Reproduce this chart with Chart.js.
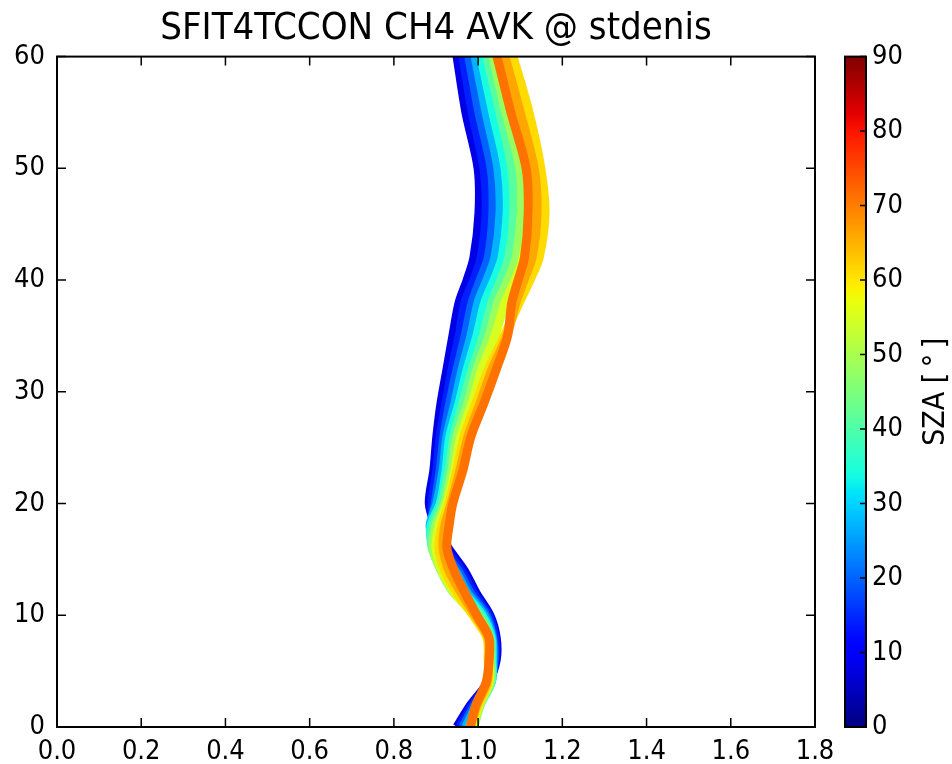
<!DOCTYPE html>
<html>
<head>
<meta charset="utf-8">
<script src="https://cdn.jsdelivr.net/npm/chart.js@4.4.1/dist/chart.umd.min.js"></script>
<style>
  html, body { margin: 0; padding: 0; background: #fff; }
  #wrap { width: 952px; height: 764px; }
</style>
</head>
<body>
<div id="wrap"><canvas id="avk"></canvas></div>
<script>
// altitude grid [km] shared by every averaging kernel profile
var altitudes = [0, 2, 4, 6, 8, 10, 12, 14, 16, 18, 20, 23, 26, 29, 32, 35, 38, 40, 42, 46, 50, 55, 60];

// solar zenith angle of each profile [deg]
var szaValues = [8, 14, 20, 27, 34, 41, 48, 55, 61, 66, 71];

// column averaging kernel per SZA, one value per altitude level
var avkSza08 = [0.950, 0.983, 1.024, 1.043, 1.043, 1.028, 0.995, 0.967, 0.929, 0.900, 0.884, 0.895, 0.902, 0.912, 0.926, 0.940, 0.955, 0.974, 0.990, 1.002, 1.000, 0.971, 0.950];
var avkSza14 = [0.957, 0.988, 1.026, 1.040, 1.040, 1.024, 0.988, 0.960, 0.921, 0.895, 0.891, 0.902, 0.910, 0.924, 0.938, 0.955, 0.969, 0.990, 1.007, 1.019, 1.014, 0.986, 0.964];
var avkSza20 = [0.964, 0.993, 1.028, 1.038, 1.035, 1.019, 0.981, 0.952, 0.912, 0.891, 0.898, 0.910, 0.919, 0.933, 0.950, 0.969, 0.986, 1.005, 1.024, 1.035, 1.031, 1.002, 0.978];
var avkSza27 = [0.971, 0.997, 1.031, 1.035, 1.033, 1.014, 0.974, 0.945, 0.900, 0.886, 0.902, 0.917, 0.926, 0.945, 0.962, 0.983, 1.000, 1.021, 1.040, 1.052, 1.047, 1.019, 0.993];
var avkSza34 = [0.979, 1.002, 1.031, 1.033, 1.031, 1.009, 0.967, 0.933, 0.893, 0.888, 0.910, 0.924, 0.933, 0.955, 0.974, 0.997, 1.016, 1.038, 1.057, 1.069, 1.064, 1.035, 1.007];
var avkSza41 = [0.986, 1.005, 1.031, 1.031, 1.028, 1.005, 0.952, 0.917, 0.891, 0.893, 0.914, 0.931, 0.943, 0.964, 0.986, 1.012, 1.033, 1.054, 1.073, 1.085, 1.080, 1.052, 1.021];
var avkSza48 = [0.990, 1.005, 1.028, 1.028, 1.026, 0.997, 0.943, 0.912, 0.893, 0.900, 0.921, 0.938, 0.950, 0.976, 0.997, 1.026, 1.047, 1.071, 1.090, 1.102, 1.099, 1.066, 1.035];
var avkSza55 = [0.988, 1.002, 1.026, 1.026, 1.024, 0.990, 0.945, 0.914, 0.900, 0.907, 0.926, 0.945, 0.959, 0.986, 1.009, 1.040, 1.064, 1.088, 1.107, 1.121, 1.118, 1.083, 1.052];
var avkSza61 = [0.983, 1.000, 1.024, 1.024, 1.021, 0.988, 0.950, 0.921, 0.907, 0.914, 0.931, 0.950, 0.967, 0.995, 1.024, 1.062, 1.098, 1.123, 1.145, 1.159, 1.149, 1.121, 1.083];
var avkSza66 = [0.981, 0.997, 1.021, 1.026, 1.024, 0.993, 0.960, 0.931, 0.917, 0.921, 0.936, 0.957, 0.976, 1.005, 1.033, 1.068, 1.090, 1.109, 1.128, 1.140, 1.133, 1.100, 1.064];
var avkSza71 = [0.981, 0.995, 1.019, 1.026, 1.026, 0.997, 0.969, 0.943, 0.926, 0.931, 0.940, 0.964, 0.983, 1.014, 1.043, 1.070, 1.080, 1.095, 1.110, 1.119, 1.114, 1.078, 1.045];

var avkProfiles = [avkSza08, avkSza14, avkSza20, avkSza27, avkSza34, avkSza41,
                   avkSza48, avkSza55, avkSza61, avkSza66, avkSza71];

// tick values
var xTicks = [0, 0.2, 0.4, 0.6, 0.8, 1.0, 1.2, 1.4, 1.6, 1.8];
var yTicks = [0, 10, 20, 30, 40, 50, 60];
var szaTicks = [0, 10, 20, 30, 40, 50, 60, 70, 80, 90];
var szaMax = 90;

var FONT = "'DejaVu Sans Condensed', 'Liberation Sans Narrow', 'DejaVu Sans', sans-serif";
var TICK = 9;

// matplotlib "jet" colormap, piecewise linear
var jetData = {
    r: [[0, 0], [0.35, 0], [0.66, 1], [0.89, 1], [1, 0.5]],
    g: [[0, 0], [0.125, 0], [0.375, 1], [0.64, 1], [0.91, 0], [1, 0]],
    b: [[0, 0.5], [0.11, 1], [0.34, 1], [0.65, 0], [1, 0]]
};
function channel(seg, t) {
    for (var i = 1; i < seg.length; i++) {
        if (t <= seg[i][0]) {
            var f = (t - seg[i - 1][0]) / (seg[i][0] - seg[i - 1][0]);
            return seg[i - 1][1] + f * (seg[i][1] - seg[i - 1][1]);
        }
    }
    return seg[seg.length - 1][1];
}
function jet(t) {
    t = Math.max(0, Math.min(1, t));
    return 'rgb(' + Math.round(255 * channel(jetData.r, t)) + ',' +
        Math.round(255 * channel(jetData.g, t)) + ',' +
        Math.round(255 * channel(jetData.b, t)) + ')';
}

var datasets = szaValues.map(function (sza, k) {
    return {
        label: 'SZA ' + sza,
        data: avkProfiles[k].map(function (v, i) { return { x: v, y: altitudes[i] }; }),
        showLine: true,
        borderColor: jet(sza / szaMax),
        borderWidth: 9,
        pointRadius: 0,
        tension: 0.3,
        borderJoinStyle: 'round',
        order: -sza      // larger zenith angles drawn on top
    };
});

// box, inward ticks and the SZA colour bar
var frameAndBar = {
    id: 'frameAndBar',
    afterDraw: function (chart) {
        var ctx = chart.ctx, a = chart.chartArea;
        var xs = chart.scales.x, ys = chart.scales.y;
        ctx.save();
        ctx.strokeStyle = '#000';
        ctx.lineWidth = 1.5;
        ctx.beginPath();
        xTicks.forEach(function (v) {
            var px = xs.getPixelForValue(v);
            ctx.moveTo(px, a.bottom); ctx.lineTo(px, a.bottom - TICK);
            ctx.moveTo(px, a.top); ctx.lineTo(px, a.top + TICK);
        });
        yTicks.forEach(function (v) {
            var py = ys.getPixelForValue(v);
            ctx.moveTo(a.left, py); ctx.lineTo(a.left + TICK, py);
            ctx.moveTo(a.right, py); ctx.lineTo(a.right - TICK, py);
        });
        ctx.stroke();
        ctx.lineWidth = 2;
        ctx.strokeRect(a.left, a.top, a.right - a.left, a.bottom - a.top);

        // colour bar
        var bl = a.right + 30, bw = 21;
        var grad = ctx.createLinearGradient(0, a.bottom, 0, a.top);
        for (var i = 0; i <= 60; i++) grad.addColorStop(i / 60, jet(i / 60));
        ctx.fillStyle = grad;
        ctx.fillRect(bl, a.top, bw, a.bottom - a.top);
        ctx.lineWidth = 1.5;
        ctx.beginPath();
        ctx.font = '27px ' + FONT;
        ctx.fillStyle = '#000';
        ctx.textAlign = 'left';
        ctx.textBaseline = 'middle';
        szaTicks.forEach(function (v) {
            var py = a.bottom - (a.bottom - a.top) * v / szaMax;
            ctx.moveTo(bl + bw, py); ctx.lineTo(bl + bw - 6, py);
            ctx.fillText(String(v), bl + bw + 6, py);
        });
        ctx.stroke();
        ctx.lineWidth = 2;
        ctx.strokeRect(bl, a.top, bw, a.bottom - a.top);

        ctx.translate(a.right + 121, (a.top + a.bottom) / 2);
        ctx.rotate(-Math.PI / 2);
        ctx.textAlign = 'center';
        ctx.font = '30px ' + FONT;
        ctx.fillText('SZA [\u2009\u00b0\u2009]', 0, 0);
        ctx.restore();
    }
};

new Chart(document.getElementById('avk'), {
    type: 'scatter',
    data: { datasets: datasets },
    options: {
        responsive: true,
        maintainAspectRatio: false,
        animation: false,
        layout: { padding: { top: 0, right: 137, bottom: 0, left: 0 } },
        plugins: {
            legend: { display: false },
            tooltip: { enabled: false },
            title: {
                display: true,
                text: 'SFIT4TCCON CH4 AVK @ stdenis',
                color: '#000',
                fullSize: false,
                font: { family: FONT, size: 38, weight: 'normal', lineHeight: 1.2 },
                padding: { top: 6, bottom: 5 }
            }
        },
        scales: {
            x: {
                type: 'linear',
                min: 0, max: 1.8,
                grid: { display: false, drawTicks: false },
                border: { display: false },
                afterBuildTicks: function (s) { s.ticks = xTicks.map(function (v) { return { value: v }; }); },
                afterFit: function (s) { s.height = 37; },
                ticks: {
                    color: '#000', padding: 9, maxRotation: 0,
                    font: { family: FONT, size: 27 },
                    callback: function (v) { return Number(v).toFixed(1); }
                }
            },
            y: {
                type: 'linear',
                min: 0, max: 60,
                grid: { display: false, drawTicks: false },
                border: { display: false },
                afterBuildTicks: function (s) { s.ticks = yTicks.map(function (v) { return { value: v }; }); },
                afterFit: function (s) { s.width = 57; },
                ticks: {
                    color: '#000', padding: 12,
                    font: { family: FONT, size: 27 }
                }
            }
        }
    },
    plugins: [frameAndBar]
});
</script>
</body>
</html>
